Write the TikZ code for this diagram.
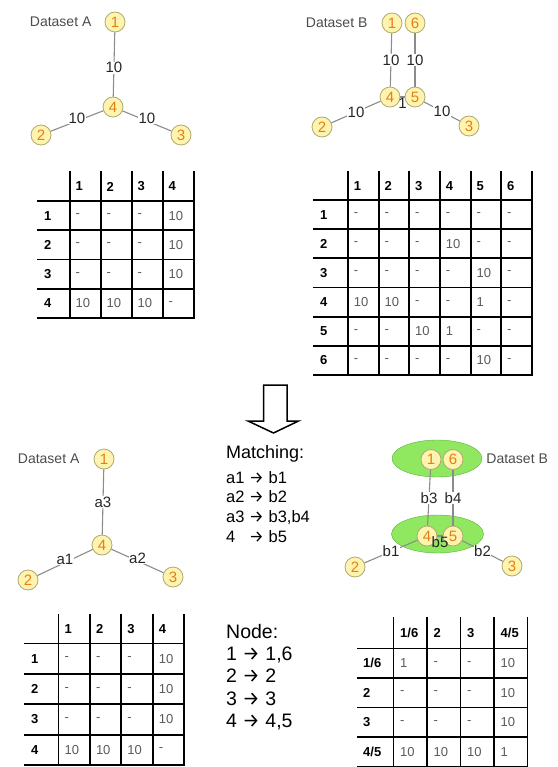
\documentclass[tikz,border=0pt]{standalone}
\usepackage{fontspec}
\setmainfont{Liberation Sans}
\newfontfamily\arrowfont{Fira Sans}
\newcommand\ra{{\arrowfont →}}
\usepackage{tikz}
\usetikzlibrary{positioning, shapes.geometric}

\definecolor{vfill}{RGB}{255,243,176}
\definecolor{vline}{RGB}{175,170,110}
\definecolor{vtext}{RGB}{228,128,20}
\definecolor{egray}{RGB}{140,140,140}
\definecolor{blobfill}{RGB}{144,232,96}
\definecolor{blobline}{RGB}{90,176,60}
\definecolor{celltext}{RGB}{90,90,90}

\begin{document}
\begin{tikzpicture}[
    x=1pt, y=-1pt,
    vtx/.style={circle, draw=vline, fill=vfill, text=vtext, minimum size=20pt, inner sep=0pt,
                line width=0.8pt, font=\fontsize{15}{15}\selectfont},
    ed/.style={draw=egray, line width=1.1pt},
    elab/.style={fill=white, inner sep=0.5pt, text=black!85, font=\fontsize{15}{15}\selectfont},
    setname/.style={text=black!70, inner sep=0pt, font=\fontsize{14}{14}\selectfont},
    grid/.style={line width=1.8pt, line cap=rect},
    head/.style={anchor=west, inner sep=0pt, font=\bfseries\fontsize{13}{13}\selectfont},
    cell/.style={anchor=west, inner sep=0pt, text=celltext, font=\fontsize{13}{13}\selectfont},
    blob/.style={ellipse, draw=blobline, fill=blobfill, inner sep=0pt},
    note/.style={align=left, inner sep=0pt, anchor=north west}
]
\useasboundingbox (0,0) rectangle (557,767);

\node[vtx] (ta1) at (115,22)  {1};
\node[vtx] (ta4) at (113,107) {4};
\node[vtx] (ta2) at (41,135)  {2};
\node[vtx] (ta3) at (181,135) {3};
\node[setname, left=13pt of ta1] (tanm) {Dataset A};
\draw[ed] (ta1) -- node[elab, pos=0.55] {10} (ta4);
\draw[ed] (ta2) -- node[elab, yshift=3pt] {10} (ta4);
\draw[ed] (ta4) -- node[elab, yshift=3pt] {10} (ta3);

\node[vtx] (tb1) at (392,23)  {1};
\node[vtx] (tb6) at (415,23)  {6};
\node[vtx] (tb4) at (390,97)  {4};
\node[vtx] (tb5) at (415,97)  {5};
\node[vtx] (tb2) at (322,127) {2};
\node[vtx] (tb3) at (469,126) {3};
\node[setname, left=14pt of tb1] (tbnm) {Dataset B};
\draw[ed] (tb1) -- node[elab] {10} (tb4);
\draw[ed] (tb6) -- node[elab] {10} (tb5);
\draw[ed] (tb2) -- node[elab] {10} (tb4);
\draw[ed] (tb5) -- node[elab] {10} (tb3);
\draw[ed] (tb4) -- node[elab, below, fill=none] {1} (tb5);

\begin{scope}[shift={(38,172)}]
\foreach \i in {0,...,4} \draw[grid] (32+31*\i,0) -- (32+31*\i,146);
\foreach \j in {0,...,4} \draw[grid] (0,29+29.25*\j) -- (156,29+29.25*\j);
\foreach \h [count=\c] in {1,2,3,4} {
   \node[head] (tabA-h\c) at (32+31*\c-25.5,14.5) {\h};
   \node[head] (tabA-r\c) at (6,29+29.25*\c-14.6) {\h};
}
\foreach \row [count=\r] in {{-,-,-,10},{-,-,-,10},{-,-,-,10},{10,10,10,-}}
   \foreach \v [count=\c] in \row
      \node[cell] (tabA-\r-\c) at (32+31*\c-25.5,29+29.25*\r-14.6) {\v};
\end{scope}

\begin{scope}[shift={(314,172)}]
\foreach \i in {0,...,6} \draw[grid] (34+30.67*\i,0) -- (34+30.67*\i,203);
\foreach \j in {0,...,6} \draw[grid] (0,28+29.17*\j) -- (218,28+29.17*\j);
\foreach \h [count=\c] in {1,2,3,4,5,6} {
   \node[head] (tabB-h\c) at (34+30.67*\c-25,14) {\h};
   \node[head] (tabB-r\c) at (6,28+29.17*\c-14.6) {\h};
}
\foreach \row [count=\r] in {{-,-,-,-,-,-},{-,-,-,10,-,-},{-,-,-,-,10,-},
                             {10,10,-,-,1,-},{-,-,10,1,-,-},{-,-,-,-,10,-}}
   \foreach \v [count=\c] in \row
      \node[cell] (tabB-\r-\c) at (34+30.67*\c-25,28+29.17*\r-14.6) {\v};
\end{scope}

\draw[line width=1.5pt, fill=white] (263.5,385) -- (287,385) -- (287,421) -- (298.5,421)
   -- (273.5,433) -- (248,421) -- (263.5,421) -- cycle;

\node[vtx] (ba1) at (104,459) {1};
\node[vtx] (ba4) at (102,545) {4};
\node[vtx] (ba2) at (28,580)  {2};
\node[vtx] (ba3) at (173,577) {3};
\node[setname, left=14pt of ba1] (banm) {Dataset A};
\draw[ed] (ba1) -- node[elab] {a3} (ba4);
\draw[ed] (ba2) -- node[elab, yshift=3pt] {a1} (ba4);
\draw[ed] (ba4) -- node[elab, yshift=3pt] {a2} (ba3);

\node[note, anchor=base west, font=\fontsize{18}{18}\selectfont] (matchhead) at (226,458.3) {Matching:};
\node[note, font=\fontsize{16.5}{19.7}\selectfont] (matchlist) at (226,471)
   {a1 \ra{} b1\\a2 \ra{} b2\\a3 \ra{} b3,b4\\4\phantom{a} \ra{} b5};

\node[blob, minimum width=90pt, minimum height=37pt] (bbtop) at (437,458.5) {};
\node[blob, minimum width=92pt, minimum height=38pt] (bbbot) at (437.5,534) {};
\node[vtx] (bb1) at (431,459.5) {1};
\node[vtx] (bb6) at (453,459.5) {6};
\node[vtx] (bb4) at (427,536)   {4};
\node[vtx] (bb5) at (453,536)   {5};
\node[vtx] (bb2) at (355,567)   {2};
\node[vtx] (bb3) at (512,566)   {3};
\node[setname, right=4pt of bbtop] (bbnm) {Dataset B};
\draw[ed] (bb1) -- node[elab] {b3} (bb4);
\draw[ed] (bb6) -- node[elab] {b4} (bb5);
\draw[ed] (bb2) -- node[elab] {b1} (bb4);
\draw[ed] (bb5) -- node[elab] {b2} (bb3);
\draw[ed] (bb4) -- node[elab, below, fill=none] {b5} (bb5);

\begin{scope}[shift={(25,615)}]
\foreach \i in {0,...,4} \draw[grid] (33.5+31.4*\i,0) -- (33.5+31.4*\i,150.1);
\foreach \j in {0,...,4} \draw[grid] (0,28.5+30.4*\j) -- (159.1,28.5+30.4*\j);
\foreach \h [count=\c] in {1,2,3,4} {
   \node[head] (tabC-h\c) at (33.5+31.4*\c-25.5,14.2) {\h};
   \node[head] (tabC-r\c) at (6,28.5+30.4*\c-15.2) {\h};
}
\foreach \row [count=\r] in {{-,-,-,10},{-,-,-,10},{-,-,-,10},{10,10,10,-}}
   \foreach \v [count=\c] in \row
      \node[cell] (tabC-\r-\c) at (33.5+31.4*\c-25.5,28.5+30.4*\r-15.2) {\v};
\end{scope}

\node[note, font=\fontsize{19.5}{22.3}\selectfont] (nodelist) at (226,624)
   {Node:\\1 \ra{} 1,6\\2 \ra{} 2\\3 \ra{} 3\\4 \ra{} 4,5};

\begin{scope}[shift={(358,618)}]
\foreach \i in {0,...,4} \draw[grid] (35.5+33.5*\i,0) -- (35.5+33.5*\i,148.5);
\foreach \j in {0,...,4} \draw[grid] (0,30.5+29.5*\j) -- (169.5,30.5+29.5*\j);
\foreach \h [count=\c] in {{1/6},2,3,{4/5}} {
   \node[head] (tabD-h\c) at (35.5+33.5*\c-27,15.2) {\h};
   \node[head] (tabD-r\c) at (5,30.5+29.5*\c-14.7) {\h};
}
\foreach \row [count=\r] in {{1,-,-,10},{-,-,-,10},{-,-,-,10},{10,10,10,1}}
   \foreach \v [count=\c] in \row
      \node[cell] (tabD-\r-\c) at (35.5+33.5*\c-27,30.5+29.5*\r-14.7) {\v};
\end{scope}
\end{tikzpicture}
\end{document}
